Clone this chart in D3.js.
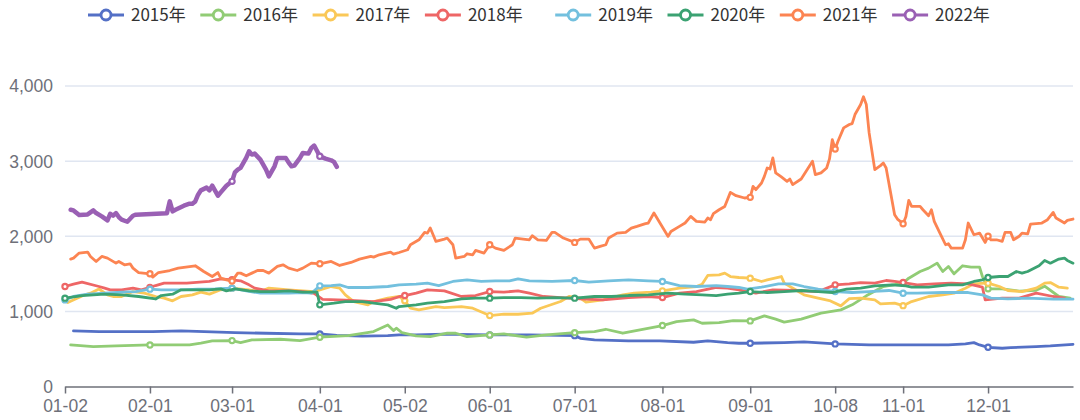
<!DOCTYPE html>
<html><head><meta charset="utf-8">
<script src="https://cdn.jsdelivr.net/npm/d3@7"></script>
<style>body{margin:0;background:#fff}svg{display:block}</style>
</head><body><svg id="c" width="1080" height="420"></svg>
<script>
const seriesNames = ["2015年","2016年","2017年","2018年","2019年","2020年","2021年","2022年"];
const colors = ["#5470c6","#91cc75","#fac858","#ee6666","#73c0de","#3ba272","#fc8452","#9a60b4"];
const yTicks = [0,1000,2000,3000,4000];
const tickLabels = ["01-02","02-01","03-01","04-01","05-02","06-01","07-01","08-01","09-01","10-08","11-01","12-01"];
const excludedDays = ["01-01","05-01","10-01","10-02","10-03","10-04","10-05","10-06","10-07"];
const monthLengths = [31,29,31,30,31,30,31,31,30,31,30,31];

const s2015 = [["01-05",740],["01-14",731],["02-02",731],["02-12",740],["03-02",717],["03-13",709],["03-25",700],["04-01",700],["04-07",680],["04-16",670],["04-25",677],["04-29",687],["05-06",687],["05-16",696],["06-01",687],["06-15",687],["07-01",677],["07-03",642],["07-08",620],["07-20",607],["07-31",607],["08-12",589],["08-17",607],["08-24",584],["08-28",576],["09-01",576],["09-13",584],["09-20",593],["10-08",567],["10-20",553],["11-06",553],["11-17",553],["11-23",567],["11-26",584],["11-28",553],["12-01",522],["12-06",509],["12-09",518],["12-18",531],["12-23",540],["12-31",562]];
const s2016 = [["01-04",553],["01-12",531],["01-20",540],["02-01",553],["02-15",553],["02-19",576],["02-23",607],["03-01",611],["03-04",584],["03-08",620],["03-18",629],["03-25",611],["04-01",656],["04-11",677],["04-20",731],["04-25",820],["04-27",744],["04-28",776],["04-30",717],["05-06",673],["05-11",664],["05-17",709],["05-20",709],["05-24",664],["06-01",687],["06-06",700],["06-14",656],["06-21",687],["07-01",717],["07-08",731],["07-12",762],["07-18",709],["07-25",762],["08-01",811],["08-06",864],["08-12",887],["08-15",842],["08-21",851],["08-26",878],["09-01",873],["09-06",940],["09-10",896],["09-13",856],["09-19",896],["09-26",976],["10-10",1020],["10-14",1087],["10-19",1207],["10-25",1331],["11-01",1376],["11-03",1442],["11-07",1531],["11-10",1576],["11-13",1642],["11-15",1531],["11-17",1598],["11-19",1500],["11-22",1607],["11-25",1589],["11-28",1589],["11-29",1464],["12-01",1300],["12-06",1300],["12-12",1270],["12-18",1280],["12-21",1335],["12-26",1198],["12-30",1176]];
const s2017 = [["01-03",1118],["01-09",1220],["01-11",1242],["01-14",1298],["01-17",1220],["01-19",1198],["01-22",1198],["01-26",1264],["01-30",1242],["02-03",1198],["02-06",1176],["02-09",1140],["02-12",1198],["02-16",1220],["02-19",1256],["02-22",1229],["02-26",1287],["03-01",1309],["03-07",1287],["03-11",1264],["03-14",1309],["03-21",1287],["03-26",1273],["03-30",1264],["04-03",1309],["04-05",1331],["04-08",1309],["04-10",1220],["04-13",1131],["04-18",1087],["04-20",1131],["04-25",1176],["04-29",1198],["05-02",1140],["05-04",1042],["05-07",1020],["05-13",1064],["05-16",1051],["05-22",1064],["05-26",1042],["06-01",944],["06-06",962],["06-11",962],["06-16",976],["06-19",1042],["06-26",1131],["06-29",1198],["07-03",1176],["07-05",1122],["07-11",1153],["07-18",1220],["07-22",1242],["07-28",1256],["08-01",1273],["08-07",1309],["08-13",1331],["08-15",1362],["08-17",1478],["08-21",1487],["08-23",1509],["08-25",1464],["08-28",1451],["09-01",1442],["09-05",1398],["09-07",1420],["09-12",1464],["09-13",1376],["09-17",1287],["09-20",1220],["09-25",1176],["09-29",1144],["10-10",1073],["10-13",1170],["10-17",1176],["10-22",1153],["10-24",1100],["10-29",1109],["11-01",1076],["11-04",1131],["11-10",1198],["11-15",1220],["11-19",1242],["11-23",1309],["11-26",1367],["11-30",1376],["12-01",1376],["12-05",1331],["12-08",1278],["12-13",1264],["12-18",1309],["12-21",1376],["12-23",1384],["12-26",1322],["12-29",1309]];
const s2018 = [["01-02",1331],["01-05",1362],["01-08",1389],["01-14",1331],["01-16",1309],["01-18",1287],["01-22",1287],["01-26",1309],["01-29",1287],["02-01",1320],["02-03",1344],["02-06",1376],["02-14",1376],["02-22",1398],["02-26",1433],["03-01",1420],["03-04",1407],["03-07",1353],["03-09",1309],["03-14",1273],["03-21",1273],["03-26",1264],["03-30",1240],["04-02",1160],["04-10",1150],["04-20",1131],["04-26",1160],["04-29",1195],["05-02",1211],["05-06",1242],["05-10",1287],["05-16",1273],["05-22",1198],["05-27",1211],["06-01",1264],["06-06",1256],["06-11",1273],["06-15",1242],["06-20",1198],["06-26",1184],["07-03",1167],["07-11",1153],["07-20",1184],["07-27",1198],["08-01",1184],["08-07",1242],["08-13",1264],["08-20",1318],["08-24",1309],["08-28",1287],["09-03",1242],["09-09",1287],["09-17",1278],["09-25",1264],["10-08",1353],["10-13",1367],["10-17",1384],["10-22",1376],["10-26",1411],["10-29",1398],["11-01",1384],["11-06",1353],["11-12",1367],["11-18",1376],["11-24",1367],["11-29",1322],["11-30",1153],["12-06",1176],["12-12",1176],["12-18",1242],["12-24",1198],["12-28",1176]];
const s2019 = [["01-02",1153],["01-05",1198],["01-10",1229],["01-16",1242],["01-22",1256],["01-27",1264],["02-01",1296],["02-05",1287],["02-12",1287],["02-18",1296],["02-24",1300],["03-01",1309],["03-06",1273],["03-11",1242],["03-16",1242],["03-21",1242],["03-26",1251],["03-29",1242],["04-01",1340],["04-05",1344],["04-08",1353],["04-11",1318],["04-18",1318],["04-25",1331],["04-29",1353],["05-06",1362],["05-10",1376],["05-14",1344],["05-19",1398],["05-24",1420],["05-29",1398],["06-03",1407],["06-08",1407],["06-11",1433],["06-15",1407],["06-23",1398],["07-01",1411],["07-06",1389],["07-13",1407],["07-20",1420],["07-27",1407],["08-01",1398],["08-07",1344],["08-13",1331],["08-20",1344],["08-24",1331],["08-28",1318],["08-31",1296],["09-05",1322],["09-11",1367],["09-16",1367],["09-20",1331],["09-25",1296],["10-08",1264],["10-14",1251],["10-20",1264],["10-27",1278],["11-01",1242],["11-06",1242],["11-15",1251],["11-24",1251],["11-29",1220],["12-02",1176],["12-08",1167],["12-15",1176],["12-24",1162],["12-31",1162]];
const s2020 = [["01-02",1176],["01-08",1211],["01-16",1229],["01-22",1220],["01-28",1198],["02-03",1165],["02-05",1211],["02-09",1229],["02-12",1287],["02-17",1287],["02-22",1287],["02-26",1300],["02-28",1273],["03-02",1300],["03-07",1273],["03-11",1264],["03-16",1264],["03-21",1273],["03-26",1256],["03-31",1256],["04-01",1087],["04-06",1109],["04-10",1131],["04-16",1131],["04-20",1109],["04-25",1087],["04-28",1042],["04-29",1064],["05-06",1087],["05-10",1109],["05-16",1131],["05-22",1167],["05-27",1176],["06-01",1176],["06-06",1184],["06-12",1184],["06-18",1176],["06-24",1184],["07-01",1176],["07-08",1198],["07-14",1198],["07-20",1211],["07-27",1220],["08-03",1242],["08-09",1229],["08-15",1220],["08-20",1211],["08-24",1229],["08-28",1242],["09-01",1264],["09-07",1251],["09-13",1264],["09-19",1278],["09-25",1264],["09-30",1251],["10-09",1270],["10-12",1296],["10-17",1309],["10-22",1340],["10-28",1353],["11-02",1340],["11-04",1322],["11-10",1322],["11-17",1353],["11-22",1353],["11-26",1398],["11-29",1420],["12-01",1451],["12-05",1464],["12-08",1464],["12-11",1531],["12-13",1509],["12-15",1531],["12-19",1607],["12-21",1678],["12-23",1642],["12-26",1696],["12-28",1709],["12-29",1678],["12-31",1642]];
const s2021 = [["01-04",1696],["01-05",1709],["01-07",1776],["01-10",1789],["01-11",1731],["01-13",1664],["01-15",1731],["01-17",1709],["01-20",1642],["01-21",1664],["01-23",1620],["01-25",1633],["01-26",1576],["01-28",1517],["02-01",1500],["02-02",1456],["02-04",1517],["02-08",1544],["02-11",1576],["02-17",1607],["02-20",1531],["02-23",1464],["02-25",1517],["02-26",1443],["02-28",1420],["03-01",1403],["03-03",1509],["03-04",1509],["03-06",1473],["03-08",1509],["03-10",1544],["03-12",1544],["03-14",1509],["03-17",1598],["03-19",1620],["03-21",1576],["03-24",1544],["03-26",1576],["03-29",1642],["04-01",1633],["04-05",1664],["04-08",1611],["04-12",1651],["04-15",1696],["04-19",1731],["04-20",1722],["04-22",1753],["04-26",1789],["04-27",1762],["04-29",1784],["05-03",1820],["05-04",1887],["05-07",1953],["05-09",2051],["05-10",2042],["05-11",2109],["05-13",1931],["05-16",1962],["05-17",1976],["05-19",1887],["05-20",1709],["05-23",1731],["05-24",1767],["05-26",1753],["05-27",1811],["05-30",1776],["06-01",1887],["06-03",1842],["06-06",1811],["06-09",1887],["06-10",1976],["06-15",1953],["06-16",2007],["06-18",1953],["06-21",1944],["06-23",2051],["06-24",2051],["06-27",1976],["07-01",1918],["07-03",1962],["07-06",1962],["07-08",1842],["07-10",1864],["07-12",1887],["07-13",1976],["07-16",2042],["07-19",2051],["07-21",2109],["07-23",2131],["07-26",2167],["07-27",2176],["07-29",2309],["08-03",1998],["08-04",2064],["08-07",2131],["08-09",2176],["08-11",2264],["08-13",2198],["08-16",2189],["08-17",2242],["08-18",2220],["08-19",2300],["08-21",2353],["08-23",2397],["08-25",2584],["08-27",2540],["08-30",2509],["09-01",2518],["09-02",2664],["09-03",2620],["09-05",2709],["09-06",2797],["09-07",2909],["09-08",2896],["09-09",3043],["09-10",2843],["09-12",2789],["09-14",2731],["09-15",2762],["09-16",2687],["09-19",2762],["09-23",2998],["09-24",2820],["09-26",2843],["09-28",2909],["09-29",3029],["09-30",3287],["10-08",3162],["10-09",3264],["10-11",3442],["10-13",3487],["10-14",3500],["10-15",3620],["10-17",3753],["10-18",3856],["10-19",3753],["10-20",3376],["10-22",2887],["10-24",2940],["10-25",2976],["10-26",2909],["10-29",2287],["10-30",2229],["11-01",2167],["11-02",2264],["11-03",2478],["11-04",2398],["11-07",2398],["11-08",2353],["11-10",2273],["11-11",2353],["11-12",2198],["11-14",2042],["11-16",1887],["11-17",1900],["11-18",1842],["11-22",1842],["11-23",1953],["11-24",2176],["11-26",2020],["11-28",2042],["11-30",1918],["12-01",2000],["12-02",1953],["12-04",1953],["12-06",1931],["12-07",2051],["12-09",2051],["12-10",1953],["12-12",2000],["12-13",2042],["12-15",2033],["12-16",2162],["12-20",2176],["12-22",2220],["12-24",2318],["12-25",2242],["12-28",2176],["12-29",2211],["12-31",2229]];
const s2022 = [["01-04",2353],["01-05",2344],["01-07",2282],["01-10",2291],["01-12",2344],["01-13",2309],["01-15",2265],["01-17",2211],["01-18",2300],["01-19",2273],["01-20",2309],["01-21",2256],["01-22",2220],["01-24",2193],["01-25",2233],["01-26",2273],["01-27",2287],["02-07",2307],["02-08",2464],["02-09",2331],["02-10",2353],["02-13",2407],["02-15",2433],["02-16",2433],["02-17",2464],["02-18",2553],["02-19",2611],["02-21",2647],["02-22",2611],["02-23",2673],["02-25",2540],["02-26",2584],["02-28",2673],["03-01",2731],["03-02",2850],["03-03",2887],["03-04",2910],["03-06",3043],["03-07",3131],["03-08",3087],["03-09",3100],["03-11",3020],["03-13",2887],["03-14",2797],["03-15",2864],["03-16",2931],["03-17",3043],["03-20",3040],["03-21",2980],["03-22",2931],["03-23",2940],["03-25",3043],["03-26",3109],["03-28",3100],["03-29",3176],["03-30",3207],["04-01",3064],["04-03",3033],["04-05",3011],["04-06",2990],["04-07",2923]];
const seriesData = [s2015,s2016,s2017,s2018,s2019,s2020,s2021,s2022];

const categories = [];
monthLengths.forEach((n, m) => {
  for (let d = 1; d <= n; d++) {
    const k = String(m + 1).padStart(2, "0") + "-" + String(d).padStart(2, "0");
    if (!excludedDays.includes(k)) categories.push(k);
  }
});

const FONT = "'Noto Sans CJK SC','Noto Sans',sans-serif";
const AXFONT = "'Liberation Sans',Arial,sans-serif";
const svg = d3.select("#c");
const L = 65, R = 1073, T = 86, B = 386.5;
const x = d3.scalePoint().domain(categories).range([L, R]);
const y = d3.scaleLinear().domain([0, 4000]).range([B, T]);

// grid
svg.append("g").selectAll("line").data(yTicks.filter(v => v > 0)).join("line")
  .attr("x1", L).attr("x2", R).attr("y1", d => y(d)).attr("y2", d => y(d))
  .attr("stroke", "#E0E6F1").attr("stroke-width", 1.5);

// y axis
const ya = svg.append("g").attr("transform", `translate(${L},0)`)
  .call(d3.axisLeft(y).tickValues(yTicks).tickSize(0).tickPadding(12).tickFormat(d3.format(",")));
ya.select(".domain").remove();
ya.selectAll("text").attr("fill", "#6E7079").attr("dy", "0.34em").style("font-family", AXFONT).style("font-size", "17.5px");

// x axis
const xa = svg.append("g").attr("transform", `translate(0,${B})`)
  .call(d3.axisBottom(x).tickValues(tickLabels).tickSize(7).tickSizeOuter(0).tickPadding(6.5));
xa.select(".domain").attr("stroke", "#6E7079").attr("stroke-width", 1.5);
xa.selectAll(".tick line").attr("stroke", "#6E7079").attr("stroke-width", 1.5);
xa.selectAll("text").attr("fill", "#6E7079").style("font-family", AXFONT).style("font-size", "17.5px");

// series
const line = d3.line().x(d => x(d[0])).y(d => y(d[1]));
seriesData.forEach((data, i) => {
  const g = svg.append("g");
  g.append("path").datum(data).attr("d", line).attr("fill", "none")
    .attr("stroke", colors[i]).attr("stroke-width", i === 7 ? 4.5 : 2.8)
    .attr("stroke-linejoin", "round").attr("stroke-linecap", "round");
  g.selectAll("circle").data(data.filter(d => tickLabels.includes(d[0]))).join("circle")
    .attr("cx", d => x(d[0])).attr("cy", d => y(d[1])).attr("r", 2.6)
    .attr("fill", "#fff").attr("stroke", colors[i]).attr("stroke-width", 2.2);
});

// legend
const lg = svg.append("g");
seriesNames.forEach((name, i) => {
  const x0 = 88 + i * 112.3 + (i >= 4 ? 18 : 0);
  const it = lg.append("g").attr("transform", `translate(${x0},15)`);
  it.append("line").attr("x1", 0).attr("x2", 36).attr("stroke", colors[i]).attr("stroke-width", 3);
  it.append("circle").attr("cx", 18).attr("r", 5).attr("fill", "#fff").attr("stroke", colors[i]).attr("stroke-width", 2.8);
  it.append("text").attr("x", 43).attr("dy", "0.35em").text(name)
    .attr("fill", "#333").style("font-family", FONT).style("font-size", "17px");
});
</script></body></html>
